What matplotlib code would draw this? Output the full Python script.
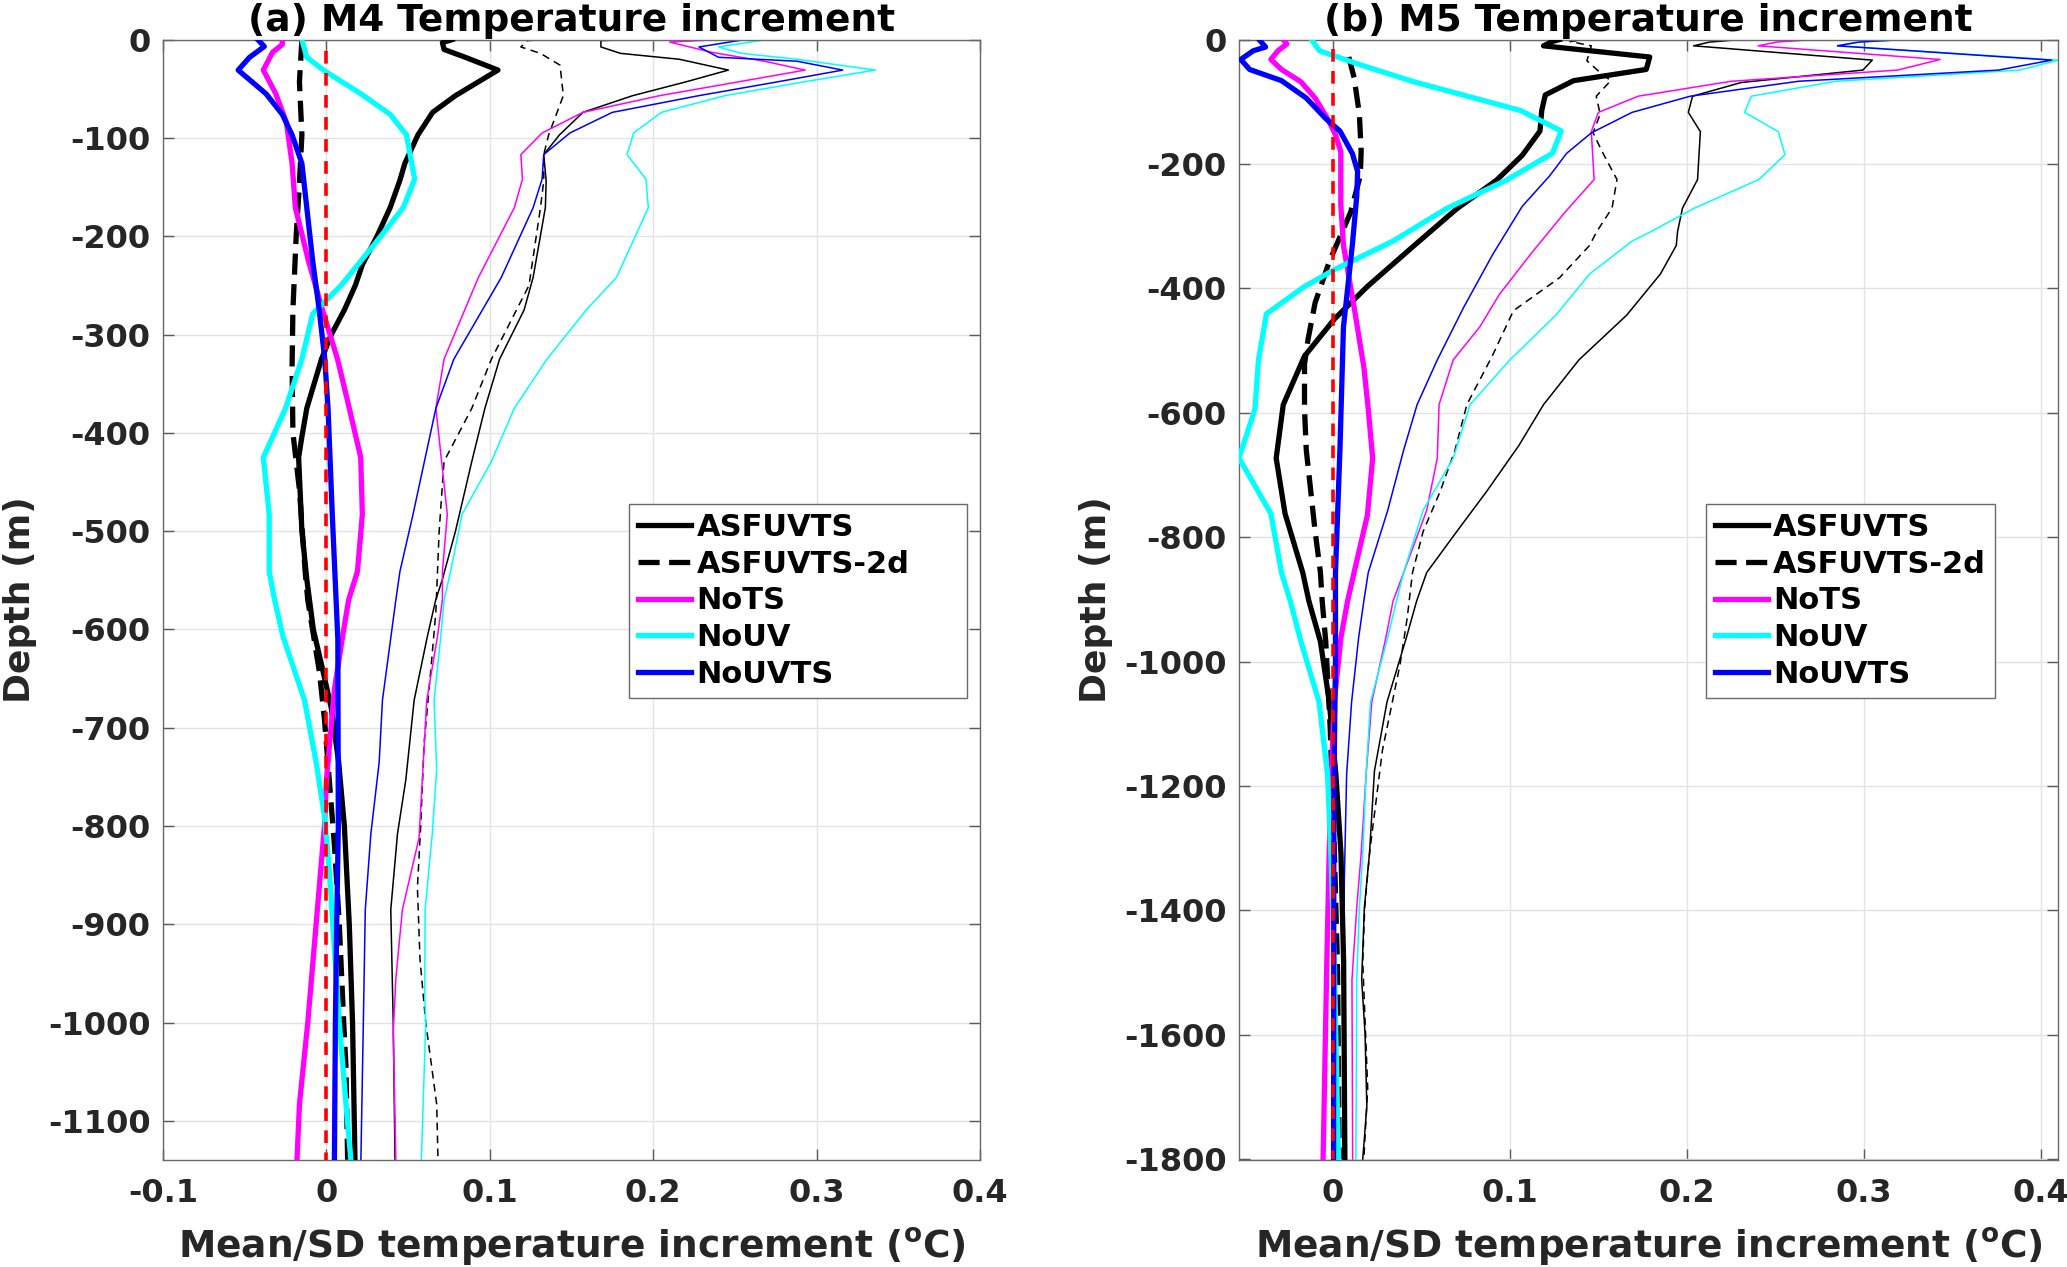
import matplotlib
matplotlib.use("Agg")
import matplotlib.pyplot as plt

plt.rcParams['font.family'] = ['DejaVu Sans']
plt.rcParams['font.weight'] = 'bold'
plt.rcParams['mathtext.fontset'] = 'dejavusans'

# ---------------- Panel (a) M4 ----------------
a_asf_mean_d = [0, -3, -10, -18, -31, -57, -74, -97, -126, -143, -171, -200, -229, -250, -275, -300, -325, -375, -404, -425, -500, -549, -600, -643, -680, -735, -800, -900, -1000, -1140]
a_asf_mean_v = [0.077, 0.071, 0.072, 0.085, 0.105, 0.079, 0.065, 0.056, 0.048, 0.045, 0.039, 0.031, 0.022, 0.0177, 0.011, 0.003, -0.003, -0.012, -0.015, -0.017, -0.015, -0.012, -0.008, -0.002, 0.003, 0.0075, 0.011, 0.014, 0.016, 0.0175]
a_asf2d_mean_d = [0, -43, -97, -146, -200, -275, -333, -400, -458, -541, -570, -643, -691, -775, -819, -900, -1000, -1046, -1140]
a_asf2d_mean_v = [-0.015, -0.0165, -0.015, -0.0165, -0.0185, -0.0205, -0.021, -0.0205, -0.0165, -0.013, -0.0114, -0.0043, -0.0012, 0.0028, 0.0049, 0.0079, 0.0106, 0.012, 0.013]
a_nots_mean_d = [0, -5, -13, -31, -55, -84, -126, -171, -225, -275, -325, -375, -425, -483, -541, -570, -600, -661, -753, -800, -900, -1000, -1083, -1140]
a_nots_mean_v = [-0.027, -0.027, -0.033, -0.0386, -0.031, -0.0245, -0.021, -0.019, -0.011, -0.0024, 0.0068, 0.014, 0.021, 0.022, 0.019, 0.0136, 0.0106, 0.0049, 0.0, -0.0012, -0.0063, -0.0114, -0.0165, -0.018]
a_nouv_mean_d = [0, -18, -32, -55, -76, -97, -142, -171, -209, -250, -279, -325, -375, -425, -483, -541, -570, -607, -672, -735, -790, -845, -900, -1000, -1083, -1140]
a_nouv_mean_v = [-0.015, -0.012, -0.001, 0.021, 0.039, 0.049, 0.054, 0.047, 0.029, 0.009, -0.0084, -0.015, -0.025, -0.0386, -0.035, -0.035, -0.0317, -0.0266, -0.0134, -0.0063, -0.0012, 0.0018, 0.0039, 0.0079, 0.012, 0.015]
a_nouvts_mean_d = [0, -7, -18, -31, -55, -76, -97, -126, -171, -225, -275, -325, -375, -483, -610, -800, -900, -1000, -1140]
a_nouvts_mean_v = [-0.042, -0.038, -0.047, -0.054, -0.037, -0.027, -0.021, -0.015, -0.012, -0.0084, -0.0044, -0.001, 0.001, 0.0036, 0.0070, 0.0073, 0.0063, 0.0055, 0.0049]

a_asf_sd_d = [0, -1, -7.5, -14, -20, -31, -43, -57, -74, -97, -117, -144, -171, -242, -275, -325, -375, -429, -500, -549, -570, -607, -672, -753, -808, -885, -1000, -1140]
a_asf_sd_v = [0.19, 0.168, 0.168, 0.18, 0.216, 0.246, 0.22, 0.1875, 0.157, 0.1426, 0.133, 0.1345, 0.134, 0.1265, 0.121, 0.106, 0.097, 0.089, 0.079, 0.071, 0.0669, 0.0618, 0.0537, 0.0486, 0.0435, 0.0394, 0.0409, 0.042]
a_asf2d_sd_d = [0, -1, -7.5, -14, -26, -57, -97, -117, -144, -171, -250, -325, -375, -429, -500, -582, -643, -716, -800, -863, -936, -1000, -1083, -1140]
a_asf2d_sd_v = [0.135, 0.123, 0.119, 0.131, 0.143, 0.145, 0.136, 0.133, 0.133, 0.131, 0.124, 0.101, 0.089, 0.072, 0.069, 0.067, 0.0638, 0.0598, 0.0577, 0.0557, 0.0573, 0.0608, 0.0675, 0.0683]
a_nots_sd_d = [0, -2.5, -13, -22, -31, -43, -57, -74, -95, -117, -142, -171, -242, -325, -375, -483, -541, -570, -607, -672, -812, -885, -955, -1010, -1140]
a_nots_sd_v = [0.24, 0.21, 0.236, 0.268, 0.293, 0.252, 0.204, 0.157, 0.132, 0.119, 0.12, 0.115, 0.093, 0.072, 0.067, 0.074, 0.071, 0.071, 0.068, 0.0614, 0.0567, 0.0465, 0.0425, 0.0409, 0.0425]
a_nouv_sd_d = [0, -7.5, -14, -20, -31, -43, -57, -74, -95, -117, -142, -171, -242, -275, -325, -375, -429, -483, -541, -570, -607, -672, -742, -808, -885, -973, -1000, -1140]
a_nouv_sd_v = [0.269, 0.24, 0.254, 0.288, 0.336, 0.292, 0.244, 0.205, 0.188, 0.184, 0.1956, 0.197, 0.1775, 0.159, 0.135, 0.115, 0.101, 0.083, 0.076, 0.072, 0.070, 0.0659, 0.0675, 0.0648, 0.0604, 0.0602, 0.0608, 0.0581]
a_nouvts_sd_d = [0, -7.5, -18, -22, -31, -43, -57, -74, -95, -117, -142, -171, -242, -325, -375, -483, -541, -570, -672, -735, -808, -885, -1000, -1140]
a_nouvts_sd_v = [0.256, 0.228, 0.24, 0.288, 0.316, 0.276, 0.228, 0.175, 0.149, 0.133, 0.132, 0.1265, 0.107, 0.078, 0.067, 0.053, 0.045, 0.0425, 0.0343, 0.0323, 0.0272, 0.0238, 0.0226, 0.0211]
a_zero_d = [-12, -1140]

# ---------------- Panel (b) M5 ----------------
b_asf_mean_d = [0, -3, -10, -28, -48, -66, -89, -114, -147, -186, -226, -272, -331, -397, -449, -509, -587, -673, -762, -857, -903, -968, -1065, -1181, -1309, -1483, -1800]
b_asf_mean_v = [0.128, 0.124, 0.119, 0.179, 0.177, 0.136, 0.12, 0.118, 0.117, 0.107, 0.0925, 0.07, 0.046, 0.0195, 0.001, -0.016, -0.028, -0.032, -0.027, -0.017, -0.0135, -0.007, -0.002, 0.0017, 0.0046, 0.0061, 0.0068]
b_asf2d_mean_d = [-28, -61, -120, -180, -219, -278, -357, -423, -482, -522, -594, -660, -712, -791, -857, -903, -968, -1106, -1300, -1500, -1800]
b_asf2d_mean_v = [0.009, 0.012, 0.015, 0.016, 0.0155, 0.01, -0.002, -0.01, -0.014, -0.016, -0.016, -0.015, -0.013, -0.01, -0.007, -0.006, -0.004, -0.0015, 0.0008, 0.0027, 0.0036]
b_nots_mean_d = [0, -7, -18, -32, -48, -68, -94, -127, -153, -180, -265, -331, -430, -528, -594, -673, -765, -857, -903, -961, -1065, -1181, -1300, -1483, -1800]
b_nots_mean_v = [-0.028, -0.026, -0.031, -0.035, -0.029, -0.018, -0.01, -0.003, 0.0015, 0.0045, 0.0045, 0.006, 0.012, 0.0176, 0.02, 0.0225, 0.0195, 0.012, 0.0083, 0.0046, 0.0008, -0.0008, -0.002, -0.0034, -0.0055]
b_nouv_mean_d = [0, -18, -41, -68, -114, -147, -183, -226, -272, -324, -370, -397, -441, -515, -594, -673, -762, -857, -903, -968, -1065, -1181, -1309, -1483, -1800]
b_nouv_mean_v = [-0.012, -0.0075, 0.016, 0.046, 0.106, 0.129, 0.124, 0.098, 0.064, 0.034, 0.0008, -0.016, -0.0375, -0.042, -0.044, -0.053, -0.035, -0.029, -0.024, -0.018, -0.0078, -0.003, -0.0011, 0.0008, 0.0032]
b_nouvts_mean_d = [0, -12, -18, -32, -48, -66, -94, -127, -147, -183, -212, -252, -331, -462, -660, -857, -1000, -1200, -1800]
b_nouvts_mean_v = [-0.0416, -0.038, -0.045, -0.052, -0.047, -0.029, -0.015, -0.004, 0.004, 0.011, 0.014, 0.0135, 0.011, 0.006, 0.004, 0.0015, 0.0015, 0.0006, 0.0004]

b_asf_sd_d = [0, -4, -10, -33, -49, -69, -91, -117, -148, -225, -271, -309, -331, -377, -443, -515, -587, -653, -726, -791, -857, -903, -961, -1065, -1176, -1309, -1396, -1512, -1599, -1715, -1800]
b_asf_sd_v = [0.23, 0.2127, 0.2038, 0.3047, 0.2994, 0.2307, 0.2032, 0.2008, 0.2076, 0.206, 0.1975, 0.1947, 0.194, 0.185, 0.166, 0.139, 0.119, 0.105, 0.087, 0.07, 0.053, 0.0473, 0.0416, 0.0306, 0.0235, 0.0207, 0.0178, 0.0163, 0.0182, 0.0192, 0.0169]
b_asf2d_sd_d = [0, -3, -10, -34, -53, -66, -91, -120, -150, -185, -225, -271, -309, -331, -383, -436, -509, -587, -660, -726, -791, -857, -930, -1004, -1143, -1309, -1396, -1483, -1686, -1800]
b_asf2d_sd_v = [0.145, 0.134, 0.146, 0.1435, 0.151, 0.157, 0.1488, 0.151, 0.147, 0.153, 0.1605, 0.1577, 0.149, 0.145, 0.128, 0.102, 0.09, 0.0757, 0.069, 0.0607, 0.051, 0.045, 0.042, 0.038, 0.028, 0.0207, 0.018, 0.0169, 0.0197, 0.0175]
b_nots_sd_d = [0, -4, -10, -32, -49, -67, -91, -117, -148, -225, -278, -344, -410, -462, -515, -587, -673, -757, -857, -903, -961, -1065, -1181, -1309, -1396, -1512, -1800]
b_nots_sd_v = [0.2715, 0.2507, 0.2402, 0.343, 0.319, 0.225, 0.1725, 0.15, 0.146, 0.1476, 0.131, 0.112, 0.094, 0.083, 0.068, 0.06, 0.059, 0.053, 0.04, 0.034, 0.03, 0.022, 0.0188, 0.016, 0.0135, 0.0108, 0.0112]
b_nouv_sd_d = [0, -4, -10, -33, -49, -67, -91, -117, -148, -185, -225, -271, -309, -324, -377, -443, -515, -587, -673, -757, -857, -903, -961, -1065, -1181, -1309, -1396, -1512, -1800]
b_nouv_sd_v = [0.3218, 0.297, 0.285, 0.4096, 0.388, 0.284, 0.2364, 0.2326, 0.2516, 0.2554, 0.2406, 0.2042, 0.1795, 0.169, 0.145, 0.126, 0.1, 0.0775, 0.068, 0.051, 0.04, 0.0359, 0.031, 0.0213, 0.0188, 0.0169, 0.015, 0.0135, 0.013]
b_nouvts_sd_d = [0, -4, -10, -33, -49, -67, -91, -117, -150, -183, -219, -268, -344, -430, -515, -587, -660, -757, -857, -903, -961, -1065, -1181, -1350, -1550, -1800]
b_nouvts_sd_v = [0.3218, 0.297, 0.285, 0.406, 0.376, 0.263, 0.2019, 0.169, 0.146, 0.132, 0.1225, 0.107, 0.0906, 0.074, 0.059, 0.0476, 0.04, 0.031, 0.02, 0.0175, 0.0146, 0.0106, 0.0078, 0.0065, 0.006, 0.0055]
b_zero_d = [-15, -1800]

labels = ['ASFUVTS', 'ASFUVTS-2d', 'NoTS', 'NoUV', 'NoUVTS']
colors = ['#000000', '#000000', '#ff00ff', '#00ffff', '#0000ff']
titles = ['(a) M4 Temperature increment', '(b) M5 Temperature increment']
a_xticks = [-0.1, 0, 0.1, 0.2, 0.3, 0.4]
a_yticks = [0, -100, -200, -300, -400, -500, -600, -700, -800, -900, -1000, -1100]
b_xticks = [0, 0.1, 0.2, 0.3, 0.4]
b_yticks = [0, -200, -400, -600, -800, -1000, -1200, -1400, -1600, -1800]

TXT = '#262626'
W, H = 2067, 1267
fig = plt.figure(figsize=(W/100, H/100), dpi=100)
axA = fig.add_axes([163/W, 1-1160.3/H, 817/W, 1120.7/H])
axB = fig.add_axes([1239/W, 1-1160.3/H, 819/W, 1120.7/H])

def fmt(v):
    return '%g' % v

def draw(ax, means, sds, zero_d, xlim, ylim, xticks, yticks, title, leg_x, leg_w):
    ax.set_axisbelow(True)
    ax.grid(True, color='#e3e3e3', lw=1.0)
    handles = []
    for i, (d, v) in enumerate(sds):
        if i == 1:
            ax.plot(v, d, color=colors[i], lw=1.1, dashes=(5, 3.5), zorder=2)
        else:
            ax.plot(v, d, color=colors[i], lw=1.1, zorder=2)
    for i, (d, v) in enumerate(means):
        if i == 1:
            h, = ax.plot(v, d, color=colors[i], lw=3.8, dashes=(4, 1.8), label=labels[i], zorder=3)
        else:
            h, = ax.plot(v, d, color=colors[i], lw=3.8, label=labels[i], zorder=3)
        handles.append(h)
    ax.plot([0, 0], zero_d, color='#ff0000', lw=2.6, dashes=(3.5, 2.6), zorder=4)
    ax.set_xlim(*xlim)
    ax.set_ylim(*ylim)
    ax.set_xticks(xticks)
    ax.set_xticklabels([fmt(t) for t in xticks])
    ax.set_yticks(yticks)
    ax.set_yticklabels([fmt(t) for t in yticks])
    ax.tick_params(direction='in', length=8, width=1, color='#5a5a5a',
                   top=True, right=True, labelsize=23, labelcolor=TXT)
    ax.tick_params(axis='y', pad=9)
    ax.tick_params(axis='x', pad=13)
    for lab in ax.get_xticklabels() + ax.get_yticklabels():
        lab.set_fontweight('bold')
    for s in ax.spines.values():
        s.set_color('#6a6a6a')
        s.set_linewidth(1.0)
    ax.set_title(title, fontsize=27, fontweight='bold', color='#000000', pad=6)
    ax.set_xlabel(r'Mean/SD temperature increment ($^{\mathbf{o}}$C)', fontsize=27,
                  fontweight='bold', color=TXT, labelpad=12)
    ax.set_ylabel('Depth (m)', fontsize=26, fontweight='bold', color=TXT, labelpad=8)
    kw = dict(loc='upper left', fontsize=22, frameon=True, fancybox=False,
              edgecolor='#6a6a6a', framealpha=1, borderpad=0.3, labelspacing=0.25,
              handlelength=1.75, handletextpad=0.17, borderaxespad=0)
    if leg_w is None:
        leg = ax.legend(handles=handles, bbox_to_anchor=(leg_x, 0.5856), **kw)
    else:
        leg = ax.legend(handles=handles, bbox_to_anchor=(leg_x, 0.3, leg_w, 0.2856),
                        mode='expand', **kw)
    leg.get_frame().set_linewidth(1.0)
    for t in leg.get_texts():
        t.set_fontweight('bold')
        t.set_color('#000000')
    return leg

draw(axA,
     [(a_asf_mean_d, a_asf_mean_v), (a_asf2d_mean_d, a_asf2d_mean_v), (a_nots_mean_d, a_nots_mean_v),
      (a_nouv_mean_d, a_nouv_mean_v), (a_nouvts_mean_d, a_nouvts_mean_v)],
     [(a_asf_sd_d, a_asf_sd_v), (a_asf2d_sd_d, a_asf2d_sd_v), (a_nots_sd_d, a_nots_sd_v),
      (a_nouv_sd_d, a_nouv_sd_v), (a_nouvts_sd_d, a_nouvts_sd_v)],
     a_zero_d, (-0.1, 0.4), (-1140, 0), a_xticks, a_yticks, titles[0], 0.570, 338/817)
draw(axB,
     [(b_asf_mean_d, b_asf_mean_v), (b_asf2d_mean_d, b_asf2d_mean_v), (b_nots_mean_d, b_nots_mean_v),
      (b_nouv_mean_d, b_nouv_mean_v), (b_nouvts_mean_d, b_nouvts_mean_v)],
     [(b_asf_sd_d, b_asf_sd_v), (b_asf2d_sd_d, b_asf2d_sd_v), (b_nots_sd_d, b_nots_sd_v),
      (b_nouv_sd_d, b_nouv_sd_v), (b_nouvts_sd_d, b_nouvts_sd_v)],
     b_zero_d, (-0.053, 0.4096), (-1802, 0), b_xticks, b_yticks, titles[1], 0.5696, None)

fig.savefig('out.png', dpi=100)
